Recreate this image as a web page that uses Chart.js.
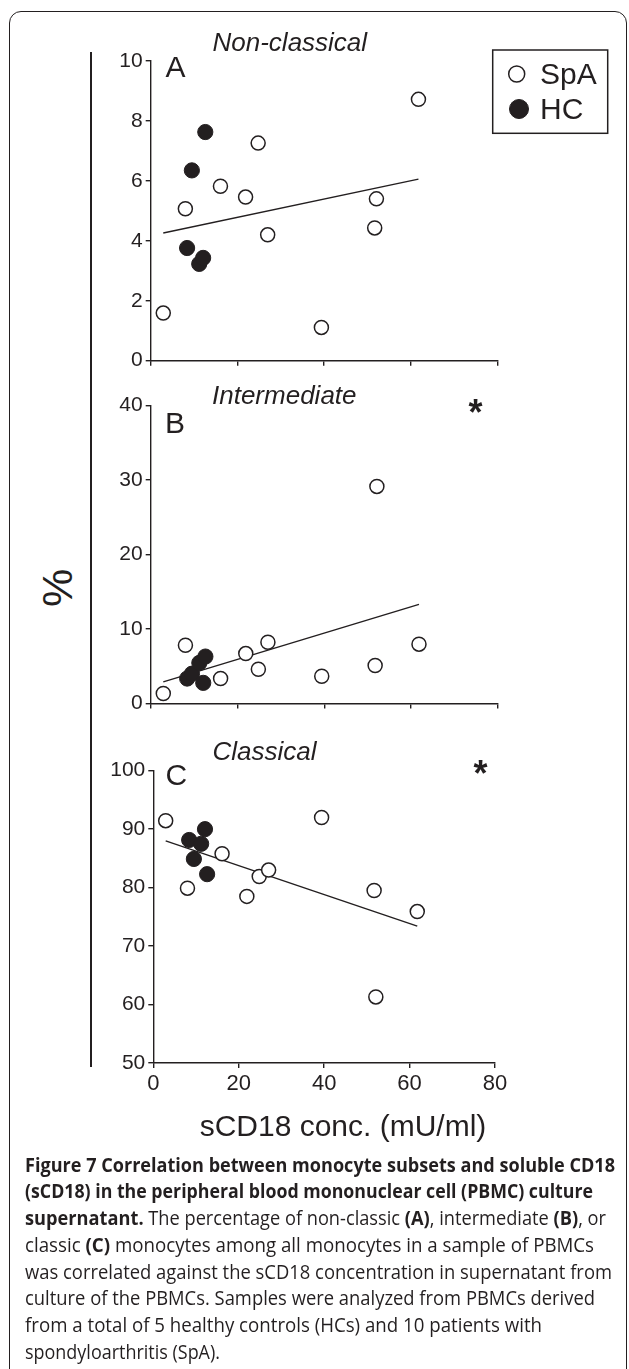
<!DOCTYPE html>
<html>
<head>
<meta charset="utf-8">
<script src="https://cdn.jsdelivr.net/npm/chart.js@4.4.1/dist/chart.umd.min.js"></script>
<style>
  html, body { margin: 0; padding: 0; background: #fff; }
  body { width: 629px; height: 1369px; position: relative; overflow: hidden; color: #231f20;
         font-family: 'Liberation Sans', Arial, sans-serif; }
  .frame { position: absolute; left: 9px; top: 11px; width: 618px; height: 1420px; box-sizing: border-box;
           border: 1.5px solid #231f20; border-radius: 12px; }
  canvas { position: absolute; left: 0; }
  #axisLine { position: absolute; left: 89.7px; top: 52px; width: 2px; height: 1015px; background: #231f20; }
  #pct { position: absolute; left: 56.7px; top: 588.3px; font-size: 43px; line-height: 1;
         transform: translate(-50%, -50%) rotate(-90deg); }
  #caption { position: absolute; left: 25px; top: 1151.5px; font-family: 'Open Sans', sans-serif;
             font-size: 20px; line-height: 26.8px; color: #231f20; }
  #caption div { white-space: nowrap; height: 26.8px; }
  #caption span.ln { display: inline-block; transform-origin: 0 0; }
  #caption b { font-weight: 700; }
</style>
</head>
<body>
<div class="frame"></div>
<div id="axisLine"></div>
<div id="pct">%</div>
<canvas id="chartA" width="629" height="380" style="top:0px"></canvas>
<canvas id="chartB" width="629" height="340" style="top:380px"></canvas>
<canvas id="chartC" width="629" height="440" style="top:720px"></canvas>
<div id="caption">
  <div><span class="ln" data-w="590"><b>Figure 7 Correlation between monocyte subsets and soluble CD18</b></span></div>
  <div><span class="ln" data-w="568"><b>(sCD18) in the peripheral blood mononuclear cell (PBMC) culture</b></span></div>
  <div><span class="ln" data-w="581"><b>supernatant.</b> The percentage of non-classic <b>(A)</b>, intermediate <b>(B)</b>, or</span></div>
  <div><span class="ln" data-w="569">classic <b>(C)</b> monocytes among all monocytes in a sample of PBMCs</span></div>
  <div><span class="ln" data-w="587">was correlated against the sCD18 concentration in supernatant from</span></div>
  <div><span class="ln" data-w="570">culture of the PBMCs. Samples were analyzed from PBMCs derived</span></div>
  <div><span class="ln" data-w="517">from a total of 5 healthy controls (HCs) and 10 patients with</span></div>
  <div><span class="ln" data-w="195">spondyloarthritis (SpA).</span></div>
</div>
<script>
// sCD18 concentration (mU/ml) per subject
const sCD18SpA = [2.9, 8.0, 16.1, 21.9, 24.8, 27.0, 39.4, 52.1, 51.7, 61.8];
const sCD18HC = [8.4, 9.5, 11.2, 12.1, 12.6];

// % of monocytes per subset
const nonClassicalSpA = [1.59, 5.07, 5.82, 5.46, 7.26, 4.20, 1.11, 5.40, 4.43, 8.72];
const nonClassicalHC = [3.76, 6.35, 3.23, 3.43, 7.63];
const intermediateSpA = [1.34, 7.82, 3.35, 6.70, 4.60, 8.22, 3.66, 29.14, 5.10, 7.96];
const intermediateHC = [3.35, 4.0, 5.45, 2.77, 6.3];
const classicalSpA = [91.45, 79.9, 85.8, 78.5, 81.9, 83.0, 92.0, 61.3, 79.5, 75.9];
const classicalHC = [88.15, 84.9, 87.5, 90.0, 82.3];

// regression line end points
const fitX = [2.9, 61.8];
const nonClassicalFit = [4.26, 6.06];
const intermediateFit = [2.9, 13.3];
const classicalFit = [88.0, 73.4];

// tick labels
const xTicks = [0, 20, 40, 60, 80];
const nonClassicalTicks = [0, 2, 4, 6, 8, 10];
const intermediateTicks = [0, 10, 20, 30, 40];
const classicalTicks = [50, 60, 70, 80, 90, 100];

const ink = '#231f20';
const family = "'Liberation Sans', Arial, sans-serif";

const toPoints = (xs, ys) => xs.map((x, i) => ({ x: x, y: ys[i] }));

function makeDatasets(hcY, spaY, fitY) {
    return [
        { label: 'HC', data: toPoints(sCD18HC, hcY), backgroundColor: ink, borderColor: ink,
          borderWidth: 1, pointRadius: 7.6, pointHoverRadius: 7.6, clip: false },
        { label: 'SpA', data: toPoints(sCD18SpA, spaY), backgroundColor: '#fff', borderColor: ink,
          borderWidth: 1.5, pointRadius: 7, pointHoverRadius: 7, clip: false },
        { type: 'line', label: 'fit', data: toPoints(fitX, fitY), borderColor: ink, borderWidth: 1.4,
          pointRadius: 0, fill: false, showLine: true, clip: false }
    ];
}

function makeScales(yTicks, yWidth, showXLabels, xHeight) {
    return {
        x: {
            type: 'linear', min: xTicks[0], max: xTicks[xTicks.length - 1],
            afterBuildTicks: s => { s.ticks = xTicks.map(v => ({ value: v })); },
            afterFit: s => { s.height = xHeight; },
            grid: { drawOnChartArea: false, drawTicks: true, tickLength: 5, color: ink, lineWidth: 1.4 },
            border: { color: ink, width: 1.4 },
            ticks: { display: showXLabels, color: ink, font: { family: family, size: 22 }, padding: 3,
                     maxRotation: 0, autoSkip: false }
        },
        y: {
            type: 'linear', min: yTicks[0], max: yTicks[yTicks.length - 1],
            afterBuildTicks: s => { s.ticks = yTicks.map(v => ({ value: v })); },
            afterFit: s => { s.width = yWidth; },
            grid: { drawOnChartArea: false, drawTicks: true, tickLength: 5, color: ink, lineWidth: 1.4 },
            border: { color: ink, width: 1.4 },
            ticks: { color: ink, font: { family: family, size: 21 }, padding: 3, autoSkip: false }
        }
    };
}

// panel titles, letters, stars, legend and axis title
const panelText = {
    id: 'panelText',
    afterDraw(chart, args, o) {
        const ctx = chart.ctx;
        ctx.save();
        ctx.fillStyle = ink;
        ctx.textAlign = 'left';
        ctx.textBaseline = 'alphabetic';
        ctx.font = 'italic 26px ' + family;
        ctx.fillText(o.title, o.titleX, o.titleY);
        ctx.font = '30px ' + family;
        ctx.fillText(o.letter, o.letterX, o.letterY);
        if (o.star) {
            ctx.font = 'bold 36px ' + family;
            const m = ctx.measureText('*');
            ctx.fillText('*', o.star[0] - (m.actualBoundingBoxRight - m.actualBoundingBoxLeft) / 2,
                         o.star[1] + (m.actualBoundingBoxAscent - m.actualBoundingBoxDescent) / 2);
        }
        if (o.xTitle) {
            ctx.font = '30px ' + family;
            ctx.textAlign = 'center';
            ctx.fillText(o.xTitle, o.xTitleX, o.xTitleY);
        }
        if (o.legend) {
            const L = o.legend;
            ctx.strokeStyle = ink;
            ctx.lineWidth = 1.5;
            ctx.strokeRect(L.x, L.y, L.w, L.h);
            const ds = chart.data.datasets;
            const rows = [ds[1], ds[0]];
            rows.forEach((d, i) => {
                const r = L.rows[i];
                ctx.beginPath();
                ctx.arc(r.cx, r.cy, r.r, 0, Math.PI * 2);
                ctx.fillStyle = d.backgroundColor;
                ctx.fill();
                ctx.lineWidth = d.borderWidth;
                ctx.strokeStyle = d.borderColor;
                ctx.stroke();
                ctx.fillStyle = ink;
                ctx.textAlign = 'left';
                ctx.font = '30px ' + family;
                ctx.fillText(d.label, L.textX, r.base);
            });
        }
        ctx.restore();
    }
};

function makeChart(id, datasets, scales, padding, text) {
    return new Chart(document.getElementById(id).getContext('2d'), {
        type: 'scatter',
        data: { datasets: datasets },
        options: {
            responsive: false,
            animation: false,
            devicePixelRatio: 1,
            layout: { padding: padding, autoPadding: false },
            scales: scales,
            plugins: { legend: { display: false }, tooltip: { enabled: false }, title: { display: false },
                       panelText: text }
        },
        plugins: [panelText]
    });
}

makeChart('chartA', makeDatasets(nonClassicalHC, nonClassicalSpA, nonClassicalFit),
    makeScales(nonClassicalTicks, 150.7, false, 10),
    { left: 0, right: 131.7, top: 61, bottom: 9.3 },
    { title: 'Non-classical', titleX: 212.5, titleY: 50.7, letter: 'A', letterX: 165.5, letterY: 76.7,
      legend: { x: 492.7, y: 50, w: 115, h: 83.3, textX: 540,
                rows: [{ cx: 516.7, cy: 74, r: 8, base: 83.5 }, { cx: 519, cy: 109, r: 9.5, base: 118.5 }] } });

makeChart('chartB', makeDatasets(intermediateHC, intermediateSpA, intermediateFit),
    makeScales(intermediateTicks, 150.7, false, 10),
    { left: 0, right: 131, top: 25.5, bottom: 6.5 },
    { title: 'Intermediate', titleX: 212, titleY: 24, letter: 'B', letterX: 165, letterY: 52.7, star: [475.5, 26] });

makeChart('chartC', makeDatasets(classicalHC, classicalSpA, classicalFit),
    makeScales(classicalTicks, 153.3, true, 40),
    { left: 0, right: 134, top: 50.7, bottom: 57 },
    { title: 'Classical', titleX: 212.5, titleY: 40, letter: 'C', letterX: 165.5, letterY: 65, star: [480.5, 46.5],
      xTitle: 'sCD18 conc. (mU/ml)', xTitleX: 343, xTitleY: 416 });

// fit caption lines to the widths in the figure
document.querySelectorAll('#caption span.ln').forEach(el => {
    const w = el.getBoundingClientRect().width;
    el.style.transform = 'scaleX(' + (parseFloat(el.dataset.w) / w) + ')';
});
</script>
</body>
</html>
